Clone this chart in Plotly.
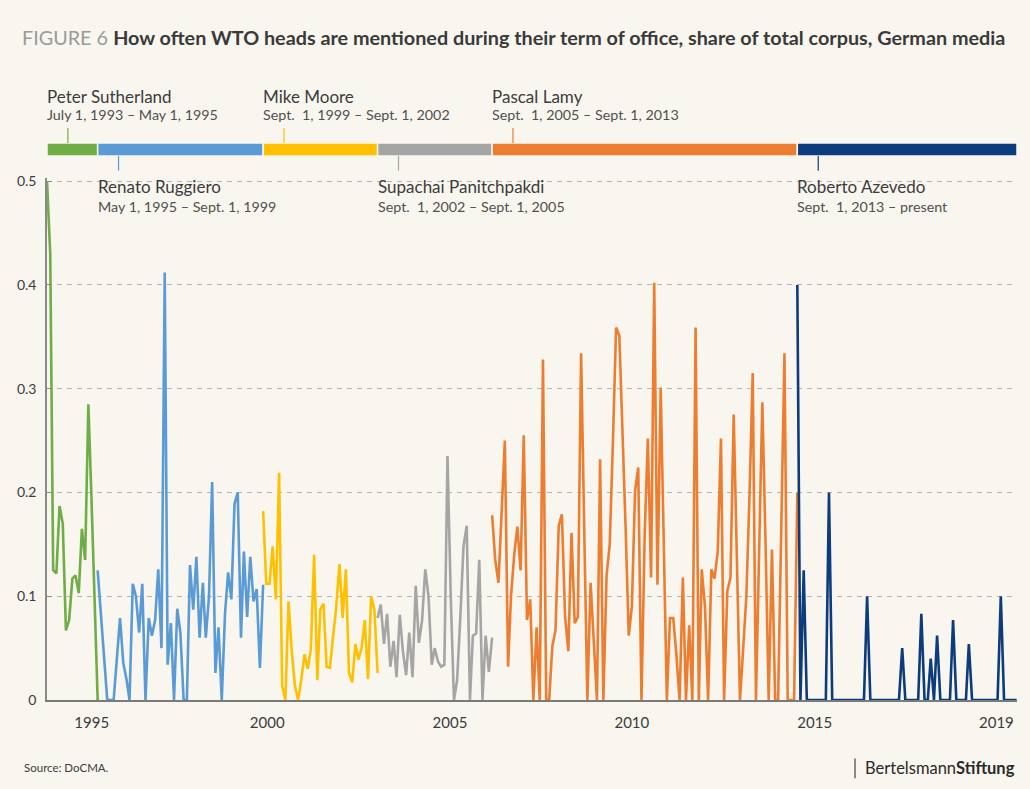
import pandas as pd
import plotly.graph_objects as go

# ---------------- data ----------------
months = pd.date_range("1994-01-01", periods=306, freq="MS")

sutherland = [0.50, 0.43, 0.125, 0.122, 0.187, 0.170, 0.067, 0.077, 0.117, 0.12,
              0.103, 0.165, 0.135, 0.285, 0.20, 0.10, 0.0]
ruggiero = [0.125, 0.085, 0.04, 0.0, 0.0, 0.0, 0.04, 0.079, 0.036, 0.02,
            0.0, 0.112, 0.10, 0.065, 0.112, 0.0, 0.079, 0.062, 0.077, 0.126,
            0.05, 0.412, 0.034, 0.074, 0.0, 0.088, 0.065, 0.0, 0.0, 0.13,
            0.087, 0.138, 0.06, 0.113, 0.06, 0.1, 0.21, 0.026, 0.07, 0.0,
            0.083, 0.123, 0.097, 0.189, 0.2, 0.06, 0.143, 0.08, 0.138, 0.095,
            0.107, 0.031, 0.111]
moore = [0.182, 0.112, 0.112, 0.148, 0.097, 0.219, 0.014, 0.0, 0.095, 0.047,
         0.014, 0.0, 0.02, 0.044, 0.03, 0.049, 0.14, 0.019, 0.087, 0.093,
         0.032, 0.031, 0.06, 0.09, 0.131, 0.079, 0.126, 0.026, 0.017, 0.054,
         0.039, 0.05, 0.077, 0.02, 0.1, 0.087, 0.026]
supachai = [0.079, 0.092, 0.054, 0.083, 0.032, 0.057, 0.022, 0.082, 0.047, 0.024,
            0.065, 0.022, 0.11, 0.055, 0.077, 0.126, 0.1, 0.034, 0.05, 0.037,
            0.032, 0.034, 0.235, 0.1, 0.0, 0.019, 0.08, 0.148, 0.168, 0.0,
            0.062, 0.064, 0.135, 0.0, 0.062, 0.027, 0.06]
lamy = [0.178, 0.135, 0.113, 0.18, 0.25, 0.032, 0.10, 0.14, 0.167, 0.125,
        0.255, 0.077, 0.097, 0.0, 0.07, 0.0, 0.328, 0.0, 0.0, 0.052,
        0.067, 0.168, 0.179, 0.08, 0.047, 0.161, 0.074, 0.08, 0.334, 0.16,
        0.0, 0.113, 0.06, 0.0, 0.232, 0.0, 0.12, 0.15, 0.25, 0.359,
        0.351, 0.26, 0.17, 0.062, 0.09, 0.202, 0.224, 0.0, 0.16, 0.252,
        0.118, 0.402, 0.111, 0.301, 0.146, 0.0, 0.079, 0.079, 0.044, 0.0,
        0.118, 0.0, 0.072, 0.0, 0.359, 0.0, 0.126, 0.09, 0.0, 0.126,
        0.117, 0.143, 0.252, 0.0, 0.105, 0.118, 0.275, 0.14, 0.0, 0.05,
        0.1, 0.2, 0.315, 0.0, 0.14, 0.287, 0.15, 0.0, 0.145, 0.0,
        0.0, 0.16, 0.334, 0.0, 0.0, 0.0, 0.2]
azevedo = [0.4, 0.0, 0.125, 0.0, 0.0, 0.0, 0.0, 0.0, 0.0, 0.0,
           0.2, 0.0, 0.0, 0.0, 0.0, 0.0, 0.0, 0.0, 0.0, 0.0,
           0.0, 0.0, 0.1, 0.0, 0.0, 0.0, 0.0, 0.0, 0.0, 0.0,
           0.0, 0.0, 0.0, 0.05, 0.0, 0.0, 0.0, 0.0, 0.0, 0.083,
           0.0, 0.0, 0.04, 0.0, 0.062, 0.0, 0.0, 0.0, 0.0, 0.077,
           0.0, 0.0, 0.0, 0.0, 0.054, 0.0, 0.0, 0.0, 0.0, 0.0,
           0.0, 0.0, 0.0, 0.0, 0.1, 0.0, 0.0, 0.0, 0.0, 0.0]

series = [sutherland, ruggiero, moore, supachai, lamy, azevedo]
series_first_month = [0, 16, 68, 104, 140, 236]

term_names = ["Peter Sutherland", "Renato Ruggiero", "Mike Moore",
              "Supachai Panitchpakdi", "Pascal Lamy", "Roberto Azevedo"]
term_dates = ["July 1, 1993 – May 1, 1995", "May 1, 1995 – Sept. 1, 1999",
              "Sept.  1, 1999 – Sept. 1, 2002", "Sept.  1, 2002 – Sept. 1, 2005",
              "Sept.  1, 2005 – Sept. 1, 2013", "Sept.  1, 2013 – present"]
term_start = ["1993-07-01", "1995-05-01", "1999-09-01", "2002-09-01", "2005-09-01", "2013-09-01"]
term_end = ["1995-05-01", "1999-09-01", "2002-09-01", "2005-09-01", "2013-09-01", "2019-06-05"]
term_colors = ["#70ad47", "#5b9bd5", "#ffc000", "#a5a5a5", "#ed7d31", "#0d3c7c"]

x_range = ["1994-01-01", "2019-06-05"]
tick_positions = ["1995-03-05", "1999-10-10", "2004-07-25", "2009-05-01", "2014-02-15", "2018-11-20"]
tick_labels = ["1995", "2000", "2005", "2010", "2015", "2019"]
y_ticks = [0, 0.1, 0.2, 0.3, 0.4, 0.5]
y_labels = ["0", "0.1", "0.2", "0.3", "0.4", "0.5"]

# ---------------- figure ----------------
BG = "#f8f6ef"
TXT = "#3c3c3c"
FONT = "Lato"

fig = go.Figure()
for vals, first, col, name in zip(series, series_first_month, term_colors, term_names):
    fig.add_trace(go.Scatter(
        x=months[first:first + len(vals)], y=vals, mode="lines",
        line=dict(color=col, width=2.6), name=name, showlegend=False,
        hovertemplate="%{x|%b %Y}: %{y}<extra>" + name + "</extra>"))

shapes = []
annotations = []
axis_start = pd.Timestamp(x_range[0])
for i, (nm, dt, s, e, col) in enumerate(zip(term_names, term_dates, term_start, term_end, term_colors)):
    s_vis = max(pd.Timestamp(s), axis_start)
    shapes.append(dict(type="rect", xref="x", yref="paper", x0=s_vis, x1=pd.Timestamp(e),
                       y0=1.042, y1=1.067, fillcolor=col, line=dict(color=BG, width=1.5), layer="above"))
    cx = s_vis + pd.Timedelta(days=200)
    upper = (i % 2 == 0)
    if upper:
        shapes.append(dict(type="line", xref="x", yref="paper", x0=cx, x1=cx, y0=1.067, y1=1.096,
                           line=dict(color=col, width=1.2)))
        y_name, y_date = 1.157, 1.121
    else:
        shapes.append(dict(type="line", xref="x", yref="paper", x0=cx, x1=cx, y0=1.042, y1=1.014,
                           line=dict(color=col, width=1.2)))
        y_name, y_date = 0.983, 0.946
    annotations.append(dict(xref="x", yref="paper", x=s_vis, y=y_name, xanchor="left", yanchor="middle",
                            text=nm, showarrow=False, font=dict(family=FONT, size=17, color=TXT), xshift=-2))
    annotations.append(dict(xref="x", yref="paper", x=s_vis, y=y_date, xanchor="left", yanchor="middle",
                            text=dt, showarrow=False, font=dict(family=FONT, size=14.3, color="#505050"), xshift=-2))

annotations.append(dict(xref="paper", yref="paper", x=-0.026, y=-0.130, xanchor="left", yanchor="middle",
                        text="Source: DoCMA.", showarrow=False, font=dict(family=FONT, size=11.5, color=TXT)))
annotations.append(dict(xref="paper", yref="paper", x=1.0, y=-0.130, xanchor="right", yanchor="middle",
                        text="Bertelsmann<b>Stiftung</b>", showarrow=False,
                        font=dict(family=FONT, size=16.5, color="#2a2a2a")))
shapes.append(dict(type="line", xref="paper", yref="paper", x0=0.833, x1=0.833, y0=-0.112, y1=-0.150,
                   line=dict(color="#444", width=1.2)))

fig.update_layout(
    width=1030, height=789,
    paper_bgcolor=BG, plot_bgcolor=BG,
    margin=dict(l=47, r=13, t=178, b=89),
    title=dict(text="<span style='color:#9a9a9a'>FIGURE 6</span> <b>How often WTO heads are mentioned during their term of office, share of total corpus, German media</b>",
               x=22 / 1030, xanchor="left", y=1 - 38 / 789, yanchor="middle",
               font=dict(family=FONT, size=19.8, color="#3a3a3a")),
    shapes=shapes, annotations=annotations,
    font=dict(family=FONT, color=TXT),
    xaxis=dict(type="date", range=x_range, showgrid=False, zeroline=False,
               tickvals=tick_positions, ticktext=tick_labels, ticks="",
               tickfont=dict(family=FONT, size=15, color=TXT),
               showline=True, linecolor="#7a7a7a", linewidth=1.5, ticklabelstandoff=8),
    yaxis=dict(range=[0, 0.503], tickvals=y_ticks, ticktext=y_labels,
               showgrid=True, gridcolor="#b4b4b4", gridwidth=1, griddash="5px,5px",
               zeroline=False, showline=True, linecolor="#8a8a8a", linewidth=1.5,
               ticks="inside", ticklen=5, tickcolor="#8a8a8a",
               tickfont=dict(family=FONT, size=14, color=TXT), ticklabelstandoff=6),
)

fig.write_html("out.html", config={"displayModeBar": False},
               post_script="document.body.style.margin='0px';document.body.style.background='" + BG + "';")
